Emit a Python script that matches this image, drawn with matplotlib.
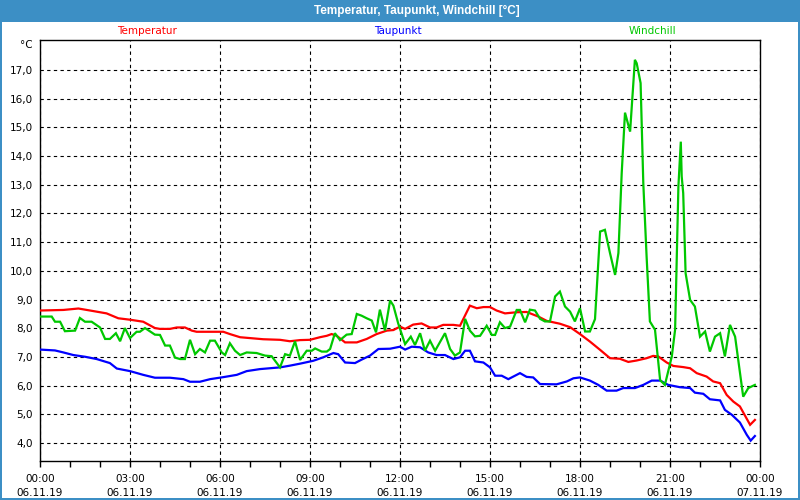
import matplotlib
matplotlib.use("Agg")
import matplotlib.pyplot as plt
from matplotlib.patches import Rectangle
from matplotlib.ticker import MultipleLocator, FixedLocator, FuncFormatter

plt.rcParams['font.family'] = ['DejaVu Sans']

# ---- data (hours since 06.11.19 00:00, °C) ----
temp_h = [0, 0.78, 1.28, 1.67, 2.22, 2.61, 3.0, 3.44, 3.83, 4.0, 4.33, 4.56, 4.83, 5.06, 5.22,
          6.11, 6.33, 6.67, 7.44, 8.0, 8.33, 8.67, 9.0, 9.33, 9.56, 9.72, 9.89, 10.17, 10.56,
          10.89, 11.22, 11.56, 11.78, 12.0, 12.17, 12.44, 12.72, 13.0, 13.22, 13.44, 13.78,
          14.0, 14.33, 14.56, 14.78, 15.0, 15.22, 15.5, 15.89, 16.22, 16.61, 16.89, 17.33,
          17.67, 18.0, 18.33, 18.67, 19.0, 19.33, 19.61, 19.89, 20.22, 20.44, 20.61, 20.89,
          21.11, 21.44, 21.67, 21.89, 22.22, 22.44, 22.67, 22.89, 23.11, 23.33, 23.67, 23.83]
temp_v = [8.62, 8.64, 8.69, 8.62, 8.52, 8.35, 8.30, 8.23, 8.01, 7.98, 7.98, 8.03, 8.03, 7.92, 7.88,
          7.88, 7.80, 7.69, 7.62, 7.60, 7.55, 7.59, 7.60, 7.69, 7.74, 7.80, 7.74, 7.51, 7.51,
          7.63, 7.80, 7.92, 7.94, 8.06, 7.98, 8.13, 8.17, 8.03, 8.03, 8.12, 8.12,
          8.09, 8.79, 8.70, 8.74, 8.74, 8.62, 8.52, 8.56, 8.57, 8.41, 8.26, 8.16,
          8.04, 7.80, 7.54, 7.25, 6.96, 6.94, 6.83, 6.88, 6.96, 7.04, 7.02, 6.81,
          6.69, 6.65, 6.61, 6.44, 6.32, 6.15, 6.09, 5.68, 5.45, 5.28, 4.64, 4.81]

dew_h = [0, 0.5, 0.78, 1.11, 1.5, 1.89, 2.33, 2.56, 3.0, 3.44, 3.83, 4.33, 4.78, 5.0, 5.33,
         5.67, 6.11, 6.56, 6.89, 7.33, 8.0, 8.33, 8.67, 9.11, 9.44, 9.78, 9.94, 10.17, 10.5,
         10.72, 11.0, 11.28, 11.67, 12.0, 12.17, 12.39, 12.67, 12.94, 13.22, 13.5, 13.78,
         14.0, 14.17, 14.33, 14.5, 14.78, 15.0, 15.17, 15.39, 15.61, 16.0, 16.22, 16.44,
         16.67, 17.22, 17.56, 17.78, 18.0, 18.33, 18.61, 18.89, 19.22, 19.44, 19.83, 20.11,
         20.39, 20.67, 20.94, 21.33, 21.67, 21.83, 22.11, 22.33, 22.67, 22.83, 23.06, 23.33,
         23.56, 23.69, 23.83]
dew_v = [7.26, 7.23, 7.16, 7.07, 7.01, 6.93, 6.79, 6.60, 6.51, 6.38, 6.28, 6.28, 6.23, 6.14, 6.14,
         6.23, 6.30, 6.38, 6.51, 6.58, 6.64, 6.70, 6.77, 6.87, 6.99, 7.14, 7.10, 6.81, 6.79,
         6.91, 7.05, 7.28, 7.29, 7.36, 7.26, 7.36, 7.34, 7.16, 7.07, 7.07, 6.93,
         6.99, 7.22, 7.22, 6.85, 6.81, 6.64, 6.35, 6.35, 6.23, 6.44, 6.31, 6.29,
         6.06, 6.05, 6.15, 6.26, 6.29, 6.18, 6.03, 5.83, 5.83, 5.92, 5.92, 6.03,
         6.18, 6.18, 6.03, 5.95, 5.92, 5.76, 5.72, 5.53, 5.49, 5.16, 4.99, 4.72,
         4.29, 4.09, 4.25]

wind_h = [0, 0.39, 0.5, 0.67, 0.83, 1.17, 1.33, 1.5, 1.72, 2.0, 2.17, 2.33, 2.53, 2.67, 2.83,
          3.0, 3.22, 3.33, 3.5, 3.83, 4.0, 4.17, 4.33, 4.5, 4.67, 4.83, 5.0, 5.17, 5.33, 5.5,
          5.67, 5.83, 6.06, 6.17, 6.33, 6.5, 6.67, 6.89, 7.22, 7.5, 7.72, 8.0, 8.17, 8.33,
          8.5, 8.67, 8.89, 9.06, 9.17, 9.39, 9.56, 9.67, 9.83, 10.0, 10.22, 10.39, 10.56,
          10.72, 10.89, 11.06, 11.2, 11.33, 11.5, 11.67, 11.78, 11.94, 12.17, 12.36, 12.5,
          12.67, 12.83, 13.0, 13.17, 13.5, 13.67, 13.83, 14.0, 14.17, 14.33, 14.5, 14.67,
          14.89, 15.06, 15.17, 15.33, 15.5, 15.67, 15.89, 16.0, 16.17, 16.33, 16.5, 16.67,
          16.83, 17.0, 17.17, 17.33, 17.5, 17.67, 17.83, 18.0, 18.17, 18.33, 18.5, 18.67,
          18.83, 19.0, 19.17, 19.28, 19.39, 19.5, 19.67, 19.83, 19.89, 20.02, 20.11, 20.22,
          20.33, 20.5, 20.67, 20.83, 21.06, 21.17, 21.28, 21.36, 21.39, 21.44, 21.52, 21.67,
          21.83, 22.0, 22.17, 22.33, 22.5, 22.67, 22.83, 23.0, 23.17, 23.44, 23.61, 23.83]
wind_v = [8.41, 8.41, 8.23, 8.23, 7.90, 7.92, 8.36, 8.23, 8.23, 8.03, 7.63, 7.63, 7.83, 7.55, 8.01,
          7.66, 7.88, 7.88, 8.01, 7.78, 7.77, 7.40, 7.40, 6.98, 6.93, 6.93, 7.60, 7.10, 7.28, 7.16,
          7.57, 7.57, 7.16, 7.07, 7.48, 7.22, 7.07, 7.16, 7.14, 7.05, 7.03, 6.64, 7.10, 7.05,
          7.55, 6.90, 7.22, 7.22, 7.30, 7.19, 7.19, 7.28, 7.83, 7.59, 7.78, 7.80, 8.50,
          8.44, 8.35, 8.27, 7.86, 8.65, 7.92, 8.97, 8.79, 8.17, 7.45, 7.71, 7.42,
          7.83, 7.22, 7.57, 7.22, 7.83, 7.28, 7.05, 7.16, 8.33, 7.92, 7.72, 7.74,
          8.09, 7.77, 7.77, 8.21, 8.01, 8.06, 8.64, 8.64, 8.21, 8.65, 8.62, 8.33,
          8.24, 8.24, 9.11, 9.28, 8.76, 8.58, 8.24, 8.70, 7.89, 7.89, 8.32, 11.37,
          11.43, 10.62, 9.86, 10.62, 13.40, 15.51, 14.85, 17.35, 17.23, 16.54, 13.05, 10.50,
          8.24, 7.95, 6.20, 6.03, 7.02, 7.95, 12.94, 14.50, 13.29, 12.71, 9.92, 8.99,
          8.76, 7.71, 7.89, 7.19, 7.71, 7.83, 7.02, 8.12, 7.71, 5.62, 5.92, 6.03]

series_names = ["Temperatur", "Taupunkt", "Windchill"]
series_colors = ["#ff0000", "#0000ff", "#00c800"]
x_tick_hours = [0, 3, 6, 9, 12, 15, 18, 21, 24]
x_tick_labels = ["00:00\n06.11.19", "03:00\n06.11.19", "06:00\n06.11.19", "09:00\n06.11.19",
                 "12:00\n06.11.19", "15:00\n06.11.19", "18:00\n06.11.19", "21:00\n06.11.19",
                 "00:00\n07.11.19"]
y_ticks = list(range(4, 18))

# ---- figure ----
W, H = 800, 500
fig = plt.figure(figsize=(8, 5), dpi=100, facecolor="white")
frame_c = "#3c8fc5"
# frame: title bar + borders
fig.patches.append(Rectangle((0, 1 - 22 / H), 1, 22 / H, transform=fig.transFigure,
                             facecolor=frame_c, edgecolor="none", zorder=0))
fig.patches.append(Rectangle((0, 0), 2 / W, 1, transform=fig.transFigure,
                             facecolor=frame_c, edgecolor="none", zorder=0))
fig.patches.append(Rectangle((1 - 2 / W, 0), 2 / W, 1, transform=fig.transFigure,
                             facecolor=frame_c, edgecolor="none", zorder=0))
fig.patches.append(Rectangle((0, 0), 1, 2 / H, transform=fig.transFigure,
                             facecolor=frame_c, edgecolor="none", zorder=0))
fig.text(417 / W, 1 - 11 / H, "Temperatur, Taupunkt, Windchill [°C]", color="white",
         fontsize=8.5, fontweight="bold", family="Liberation Sans", ha="center", va="center")

ax = fig.add_axes([40 / W, 1 - 461 / H, 720 / W, 421 / H])
ax.set_xlim(0, 24)
ax.set_ylim(3.38, 18.04)

for hs, vs, c in zip([temp_h, dew_h, wind_h], [temp_v, dew_v, wind_v], series_colors):
    ax.plot(hs, vs, color=c, lw=1.6, solid_joinstyle="miter", zorder=3)

ax.xaxis.set_major_locator(FixedLocator(x_tick_hours))
ax.set_xticklabels(x_tick_labels, linespacing=1.6)
ax.xaxis.set_minor_locator(MultipleLocator(1))
ax.set_yticks(y_ticks)
ax.yaxis.set_major_formatter(FuncFormatter(lambda v, p: f"{v:.1f}".replace(".", ",")))
ax.tick_params(axis="x", which="both", direction="out", length=4, width=1, color="black",
               labelsize=7.5, pad=5)
ax.tick_params(axis="y", which="both", length=0, labelsize=7.5, pad=5)
ax.grid(True, which="major", color="black", linestyle=(0, (3, 3)), linewidth=0.8)
for s in ax.spines.values():
    s.set_color("black")
    s.set_linewidth(1)

fig.text(33 / W, 1 - 45 / H, "°C", fontsize=7.5, ha="right", va="center")
label_x = [147, 398, 652]
for name, c, lx in zip(series_names, series_colors, label_x):
    fig.text(lx / W, 1 - 31 / H, name, color=c, fontsize=7.5, ha="center", va="center")

fig.savefig("out.png", dpi=100, facecolor="white")
